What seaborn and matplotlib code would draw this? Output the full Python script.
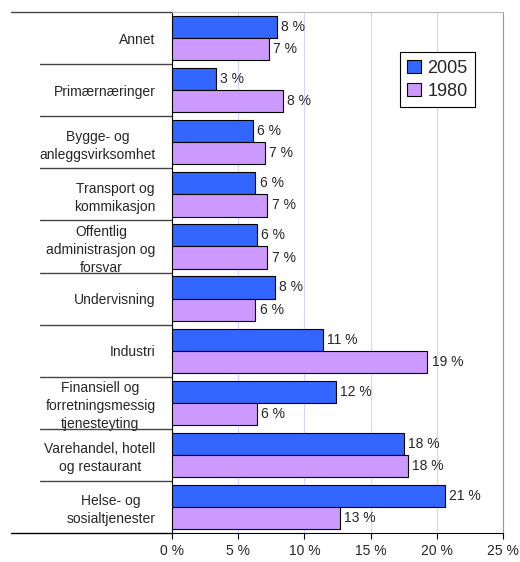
import seaborn as sns
import pandas as pd
import numpy as np
import matplotlib.pyplot as plt
from matplotlib.transforms import blended_transform_factory

# data (percent)
categories = ["Annet", "Primærnæringer", "Bygge- og\nanleggsvirksomhet",
              "Transport og\nkommikasjon", "Offentlig\nadministrasjon og\nforsvar",
              "Undervisning", "Industri",
              "Finansiell og\nforretningsmessig\ntjenesteyting",
              "Varehandel, hotell\nog restaurant", "Helse- og\nsosialtjenester"]
share_2005 = [7.9, 3.3, 6.1, 6.3, 6.4, 7.8, 11.4, 12.4, 17.5, 20.6]
share_1980 = [7.3, 8.4, 7.0, 7.2, 7.2, 6.3, 19.3, 6.4, 17.8, 12.7]
years = ["2005", "1980"]
x_ticks = [0, 5, 10, 15, 20, 25]

df = pd.DataFrame({
    "kategori": categories * 2,
    "andel": share_2005 + share_1980,
    "år": ["2005"] * len(categories) + ["1980"] * len(categories),
})

sns.set_style("white")
plt.rcParams["font.family"] = ["Liberation Sans", "DejaVu Sans"]

fig = plt.figure(figsize=(5.2, 5.62), dpi=100)
ax = fig.add_axes([0.331, 0.0516, 0.636, 0.927])

sns.barplot(data=df, x="andel", y="kategori", hue="år", hue_order=years,
            palette=["#3366FF", "#CC99FF"], saturation=1, orient="h", width=0.85,
            edgecolor="black", linewidth=0.8, ax=ax, zorder=3)

for cont in ax.containers:
    vals = [b.get_width() for b in cont]
    ax.bar_label(cont, labels=[f"{round(v)} %" for v in vals], padding=3, fontsize=10)

ax.set_xlim(0, 25)
ax.set_ylim(len(categories) - 0.5, -0.5)
ax.set_xticks(x_ticks)
ax.set_xticklabels([f"{t} %" for t in x_ticks], fontsize=10)
ax.set_xlabel("")
ax.set_ylabel("")
ax.tick_params(axis="x", direction="out", length=4, pad=4, color="black", bottom=True)
ax.tick_params(axis="y", length=0, pad=12, labelsize=10)
for lab in ax.get_yticklabels():
    lab.set_multialignment("center")
    lab.set_linespacing(1.35)

ax.grid(axis="x", color="#D4D4FF", linewidth=0.8, zorder=0)
ax.grid(axis="y", visible=False)
for s in ["top", "right", "bottom", "left"]:
    ax.spines[s].set_visible(True)
ax.spines["top"].set_color("#BBBBBB")
ax.spines["right"].set_color("#999999")
ax.spines["left"].set_color("black")
ax.spines["bottom"].set_color("black")

# category separators extending into the label area
tr = blended_transform_factory(ax.transAxes, ax.transData)
for i in range(len(categories) + 1):
    y = i - 0.5
    x0 = -0.486 if i in (0, len(categories)) else -0.399
    col = "black" if i == len(categories) else "#444444"
    ax.plot([x0, 0], [y, y], transform=tr, color=col, lw=1, clip_on=False)

handles, labels = ax.get_legend_handles_labels()
ax.legend(handles, labels, loc="upper left", bbox_to_anchor=(0.662, 0.94),
          fontsize=13, frameon=True, fancybox=False, edgecolor="black",
          handlelength=0.75, handleheight=0.75, handletextpad=0.35,
          borderpad=0.4, labelspacing=0.35, framealpha=1)
ax.get_legend().get_frame().set_linewidth(0.8)

fig.savefig("out.png", dpi=100)
